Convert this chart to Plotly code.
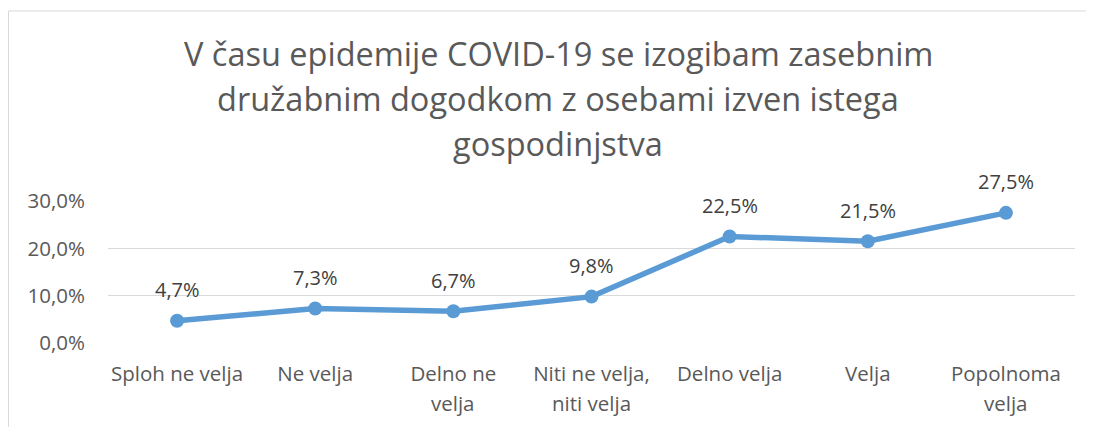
import plotly.graph_objects as go

categories = ["Sploh ne velja", "Ne velja", "Delno ne velja", "Niti ne velja, niti velja",
              "Delno velja", "Velja", "Popolnoma velja"]
tick_line1 = ["Sploh ne velja", "Ne velja", "Delno ne", "Niti ne velja,", "Delno velja", "Velja", "Popolnoma"]
tick_line2 = ["", "", "velja", "niti velja", "", "", "velja"]
values = [4.7, 7.3, 6.7, 9.8, 22.5, 21.5, 27.5]
y_ticks = [0, 10, 20, 30]
title_lines = ["V času epidemije COVID-19 se izogibam zasebnim",
               "družabnim dogodkom z osebami izven istega",
               "gospodinjstva"]

O = 8  # page body margin offset
W, H = 1094 - O, 427 - O
L, R, T, B = 108 - O, 1075 - O, 201 - O, 343 - O
FONT = "Open Sans"

def py(y):
    return (B - (y - O)) / (B - T)

def px(x):
    return ((x - O) - L) / (R - L)

x_idx = list(range(len(categories)))

fig = go.Figure()
fig.add_trace(go.Scatter(
    x=x_idx, y=values, mode="lines+markers",
    line=dict(color="#5B9BD5", width=5.5),
    marker=dict(color="#5B9BD5", size=14),
    hoverinfo="skip", showlegend=False, cliponaxis=False,
))

annotations = []
for i, v in enumerate(values):
    annotations.append(dict(x=i, y=v, xref="x", yref="y", text=f"{v:.1f}".replace(".", ",") + "%",
                            showarrow=False, yshift=31, yanchor="middle",
                            font=dict(family=FONT, size=20, color="#404040")))
for i, t in enumerate(tick_line2):
    if t:
        annotations.append(dict(x=i, y=py(403), xref="x", yref="paper", text=t, showarrow=False,
                                yanchor="middle", font=dict(family=FONT, size=20.5, color="#595959")))
for t, yc in zip(title_lines, [53, 98, 143]):
    annotations.append(dict(x=px(558), y=py(yc), xref="paper", yref="paper", text=t, showarrow=False,
                            xanchor="center", yanchor="middle",
                            font=dict(family=FONT, size=32.5, color="#595959")))

shapes = [
    dict(type="line", xref="paper", yref="paper", x0=px(8.5), x1=px(1094), y0=py(11), y1=py(11),
         line=dict(color="#D9D9D9", width=1)),
    dict(type="line", xref="paper", yref="paper", x0=px(8.5), x1=px(8.5), y0=py(11), y1=py(427),
         line=dict(color="#D9D9D9", width=1)),
]

fig.update_layout(
    width=W, height=H,
    margin=dict(l=L, r=W - R, t=T, b=H - B, pad=0),
    paper_bgcolor="white", plot_bgcolor="white",
    separators=",.",
    annotations=annotations, shapes=shapes,
    xaxis=dict(range=[-0.5, 6.5], tickmode="array", tickvals=x_idx, ticktext=tick_line1,
               showgrid=False, zeroline=False, showline=False, ticks="",
               ticklabelstandoff=16,
               tickfont=dict(family=FONT, size=20.5, color="#595959")),
    yaxis=dict(range=[0, 30], tickmode="array", tickvals=y_ticks,
               ticktext=[f"{v:.1f}".replace(".", ",") + "%" for v in y_ticks],
               showgrid=True, gridcolor="#D9D9D9", gridwidth=1.3, zeroline=False,
               showline=False, ticks="", ticklabelstandoff=22,
               tickfont=dict(family=FONT, size=20.5, color="#595959")),
)

fig.write_html("out.html")
